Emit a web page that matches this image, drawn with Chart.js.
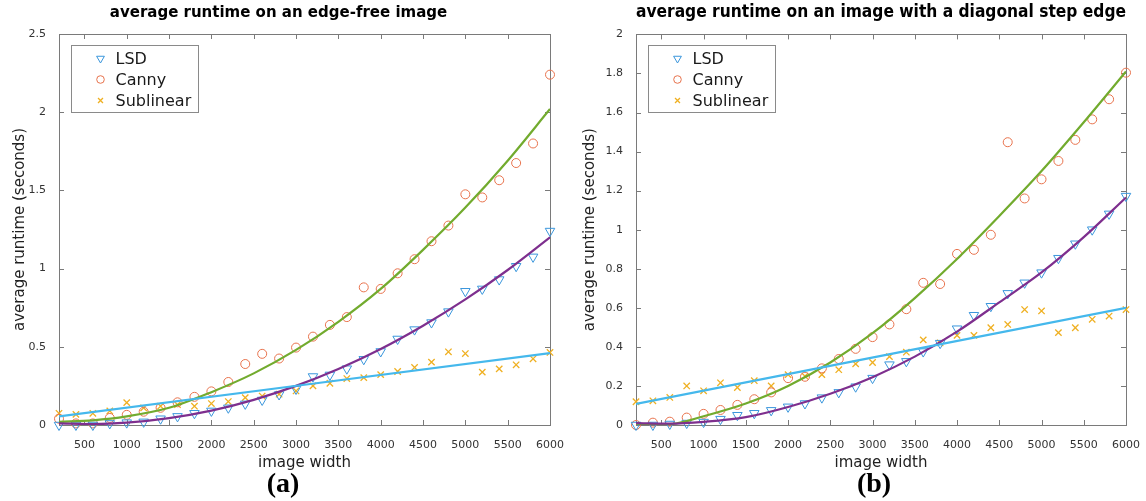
<!DOCTYPE html>
<html>
<head>
<meta charset="utf-8">
<script src="https://cdn.jsdelivr.net/npm/chart.js@4.4.1/dist/chart.umd.min.js"></script>
<style>
  html, body { margin: 0; padding: 0; background: #fff; }
  body { width: 1146px; height: 501px; position: relative; overflow: hidden; }
  .panel { position: absolute; top: 0; height: 476px; }
  #panelA { left: 0; width: 570px; }
  #panelB { left: 570px; width: 576px; }
  .sub {
    position: absolute; top: 467px; width: 100px; text-align: center;
    font-family: "Liberation Serif", serif; font-weight: bold; font-size: 28px; color: #000;
  }
</style>
</head>
<body>
<div class="panel" id="panelA"><canvas id="chartA"></canvas></div>
<div class="panel" id="panelB"><canvas id="chartB"></canvas></div>
<div class="sub" style="left:233px">(a)</div>
<div class="sub" style="left:824px">(b)</div>
<script>
(() => {
  const FONT = "'DejaVu Sans', sans-serif";

  // image widths of the measured points
  const WIDTHS = [200, 400, 600, 800, 1000, 1200, 1400, 1600, 1800, 2000,
    2200, 2400, 2600, 2800, 3000, 3200, 3400, 3600, 3800, 4000,
    4200, 4400, 4600, 4800, 5000, 5200, 5400, 5600, 5800, 6000];

  // (a) edge-free image
  const LSD_A = [0.0, 0.0, 0.0, 0.01, 0.015, 0.02, 0.04, 0.055, 0.075, 0.09,
    0.11, 0.135, 0.16, 0.195, 0.23, 0.31, 0.32, 0.36, 0.42, 0.47,
    0.55, 0.61, 0.655, 0.725, 0.855, 0.87, 0.93, 1.015, 1.075, 1.24];
  const CANNY_A = [0.04, 0.01, 0.01, 0.045, 0.065, 0.085, 0.11, 0.145, 0.18, 0.215,
    0.275, 0.39, 0.455, 0.425, 0.495, 0.565, 0.64, 0.69, 0.88, 0.87,
    0.97, 1.06, 1.175, 1.275, 1.475, 1.455, 1.565, 1.675, 1.8, 2.24];
  const SUB_A = [0.075, 0.068, 0.075, 0.09, 0.143, 0.11, 0.12, 0.13, 0.12, 0.137,
    0.15, 0.175, 0.185, 0.197, 0.218, 0.25, 0.267, 0.297, 0.303, 0.322,
    0.342, 0.368, 0.402, 0.468, 0.457, 0.338, 0.359, 0.385, 0.423, 0.464];

  // (b) diagonal step edge
  const LSD_B = [0.0, 0.0, 0.005, 0.01, 0.015, 0.03, 0.05, 0.06, 0.075, 0.093,
    0.11, 0.14, 0.167, 0.196, 0.24, 0.309, 0.326, 0.376, 0.419, 0.493,
    0.562, 0.608, 0.674, 0.728, 0.78, 0.854, 0.928, 1.0, 1.081, 1.172];
  const CANNY_B = [0.0, 0.012, 0.017, 0.038, 0.057, 0.077, 0.103, 0.132, 0.167, 0.24,
    0.247, 0.29, 0.338, 0.39, 0.45, 0.515, 0.593, 0.728, 0.722, 0.876,
    0.897, 0.974, 1.448, 1.16, 1.258, 1.352, 1.46, 1.565, 1.668, 1.804];
  const SUB_B = [0.119, 0.124, 0.141, 0.2, 0.175, 0.216, 0.192, 0.227, 0.2, 0.258,
    0.25, 0.258, 0.283, 0.313, 0.32, 0.35, 0.373, 0.436, 0.42, 0.459,
    0.459, 0.498, 0.515, 0.591, 0.584, 0.473, 0.498, 0.541, 0.558, 0.591];

  // fitted curves
  const FIT_X = [200, 600, 1000, 1500, 2000, 2500, 3000, 3500, 4000, 4500, 5000, 5500, 6000];
  const CANNY_FIT_A = [0.02, 0.03, 0.055, 0.11, 0.21, 0.33, 0.48, 0.66, 0.87, 1.12, 1.39, 1.69, 2.02];
  const LSD_FIT_A = [0.01, 0.006, 0.015, 0.044, 0.092, 0.161, 0.25, 0.358, 0.486, 0.635, 0.803, 0.991, 1.2];
  const CANNY_FIT_B = [0.0, 0.004, 0.045, 0.11, 0.2, 0.32, 0.47, 0.65, 0.85, 1.07, 1.3, 1.55, 1.81];
  const LSD_FIT_B = [0.01, 0.007, 0.016, 0.04, 0.092, 0.16, 0.245, 0.35, 0.478, 0.628, 0.781, 0.962, 1.165];
  const LIN_X = [200, 6000];
  const SUB_FIT_A = [0.055, 0.46];
  const SUB_FIT_B = [0.108, 0.6];

  const X_TICKS = [500, 1000, 1500, 2000, 2500, 3000, 3500, 4000, 4500, 5000, 5500, 6000];
  const Y_TICKS_A = [0, 0.5, 1, 1.5, 2, 2.5];
  const Y_TICKS_B = [0, 0.2, 0.4, 0.6, 0.8, 1, 1.2, 1.4, 1.6, 1.8, 2];

  const C_LSD = "#3a96dc";
  const C_CANNY = "#e8734d";
  const C_SUB = "#efb022";
  const C_GREEN = "#72ab2e";
  const C_PURPLE = "#7e2f8e";
  const C_CYAN = "#45b8ec";
  const C_AXIS = "#7a7a7a";

  const pts = (xs, ys) => xs.map((x, i) => ({ x, y: ys[i] }));

  // tick marks inside the box on all four sides, plus the box
  const boxPlugin = {
    id: "box",
    beforeDatasetsDraw(chart) {
      const { ctx, chartArea: a, scales } = chart;
      ctx.save();
      ctx.strokeStyle = C_AXIS;
      ctx.lineWidth = 1;
      ctx.beginPath();
      scales.x.ticks.forEach((t) => {
        const px = Math.round(scales.x.getPixelForValue(t.value)) + 0.5;
        ctx.moveTo(px, a.bottom); ctx.lineTo(px, a.bottom - 5);
        ctx.moveTo(px, a.top); ctx.lineTo(px, a.top + 5);
      });
      scales.y.ticks.forEach((t) => {
        const py = Math.round(scales.y.getPixelForValue(t.value)) + 0.5;
        ctx.moveTo(a.left, py); ctx.lineTo(a.left + 5, py);
        ctx.moveTo(a.right, py); ctx.lineTo(a.right - 5, py);
      });
      ctx.stroke();
      ctx.strokeRect(Math.round(a.left) + 0.5, Math.round(a.top) + 0.5,
        Math.round(a.right - a.left), Math.round(a.bottom - a.top));
      ctx.restore();
    },
  };

  // boxed legend in the upper left corner
  const legendPlugin = {
    id: "boxLegend",
    afterDatasetsDraw(chart) {
      const { ctx, chartArea: a } = chart;
      const items = chart.data.datasets.filter((d) => d.legend);
      const x0 = Math.round(a.left) + 12.5;
      const y0 = Math.round(a.top) + 11.5;
      const w = 127, h = 67;
      ctx.save();
      ctx.fillStyle = "#fff";
      ctx.fillRect(x0, y0, w, h);
      ctx.strokeStyle = "#8a8a8a";
      ctx.lineWidth = 1;
      ctx.strokeRect(x0, y0, w, h);
      ctx.font = "16px " + FONT;
      ctx.textBaseline = "middle";
      items.forEach((d, i) => {
        const cy = y0 + 13 + i * 21;
        ctx.strokeStyle = d.borderColor;
        ctx.fillStyle = "rgba(0,0,0,0)";
        ctx.lineWidth = d.pointBorderWidth;
        Chart.helpers.drawPoint(ctx, {
          pointStyle: d.pointStyle, rotation: d.rotation || 0,
          radius: d.legendRadius, borderWidth: d.pointBorderWidth,
        }, x0 + 29, cy);
        ctx.fillStyle = "#1a1a1a";
        ctx.fillText(d.label, x0 + 44, cy + 1);
      });
      ctx.restore();
    },
  };

  function markers(label, ys, color, style, radius, rotation, legendRadius, bw) {
    return {
      label, legend: true, data: pts(WIDTHS, ys), showLine: false,
      pointStyle: style, rotation, pointRadius: radius, legendRadius,
      borderColor: color, backgroundColor: "rgba(0,0,0,0)", pointBorderWidth: bw,
      clip: false, order: 5,
    };
  }

  function fit(xs, ys, color) {
    return {
      data: pts(xs, ys), showLine: true, pointRadius: 0, borderColor: color,
      borderWidth: 2.2, tension: 0.4, cubicInterpolationMode: "monotone", order: 1,
    };
  }

  function makeChart(id, opts) {
    return new Chart(document.getElementById(id), {
      type: "scatter",
      data: {
        datasets: [
          fit(LIN_X, opts.subFit, C_CYAN),
          fit(FIT_X, opts.lsdFit, C_PURPLE),
          fit(FIT_X, opts.cannyFit, C_GREEN),
          markers("LSD", opts.lsd, C_LSD, "triangle", 5.5, 180, 4.5, 1),
          markers("Canny", opts.canny, C_CANNY, "circle", 4.5, 0, 3.8, 1),
          markers("Sublinear", opts.sub, C_SUB, "crossRot", 4.5, 0, 3.5, 1.3),
        ],
      },
      options: {
        responsive: true,
        maintainAspectRatio: false,
        animation: false,
        events: [],
        layout: { padding: { left: 0, right: opts.padRight, top: 0, bottom: 0 } },
        plugins: {
          legend: { display: false },
          tooltip: { enabled: false },
          title: {
            display: true, text: opts.title, color: "#000", fullSize: opts.titleFull,
            font: { family: FONT, size: opts.titleSize, weight: "bold" },
            padding: { top: opts.titleTop, bottom: 34 - opts.titleTop - Math.round(opts.titleSize * 1.2) },
          },
        },
        scales: {
          x: {
            type: "linear", min: 200, max: 6000,
            grid: { display: false }, border: { display: false },
            afterBuildTicks: (s) => { s.ticks = X_TICKS.map((v) => ({ value: v })); },
            afterFit: (s) => { s.height = 51; },
            ticks: {
              autoSkip: false, maxRotation: 0, padding: 6, color: "#333",
              font: { family: FONT, size: 11 }, callback: (v) => String(v),
            },
            title: {
              display: true, text: "image width", color: "#222",
              font: { family: FONT, size: 15 }, padding: { top: 4, bottom: 4 },
            },
          },
          y: {
            min: 0, max: opts.yMax,
            grid: { display: false }, border: { display: false },
            afterBuildTicks: (s) => { s.ticks = opts.yTicks.map((v) => ({ value: v })); },
            afterFit: (s) => { s.width = opts.yWidth; },
            ticks: {
              autoSkip: false, padding: 5, color: "#333",
              font: { family: FONT, size: 11 }, callback: (v) => String(v),
            },
            title: {
              display: true, text: "average runtime (seconds)", color: "#222",
              font: { family: FONT, size: 15 }, padding: { top: 11, bottom: 0 },
            },
          },
        },
      },
      plugins: [boxPlugin, legendPlugin],
    });
  }

  makeChart("chartA", {
    title: "average runtime on an edge-free image",
    lsd: LSD_A, canny: CANNY_A, sub: SUB_A,
    lsdFit: LSD_FIT_A, cannyFit: CANNY_FIT_A, subFit: SUB_FIT_A,
    yMax: 2.5, yTicks: Y_TICKS_A, yWidth: 59, padRight: 13,
    titleSize: 15, titleTop: 4, titleFull: true,
  });

  makeChart("chartB", {
    title: "average runtime on an image with a diagonal step edge",
    lsd: LSD_B, canny: CANNY_B, sub: SUB_B,
    lsdFit: LSD_FIT_B, cannyFit: CANNY_FIT_B, subFit: SUB_FIT_B,
    yMax: 2, yTicks: Y_TICKS_B, yWidth: 66, padRight: 15,
    titleSize: 17, titleTop: 2, titleFull: false,
  });
})();
</script>
</body>
</html>
